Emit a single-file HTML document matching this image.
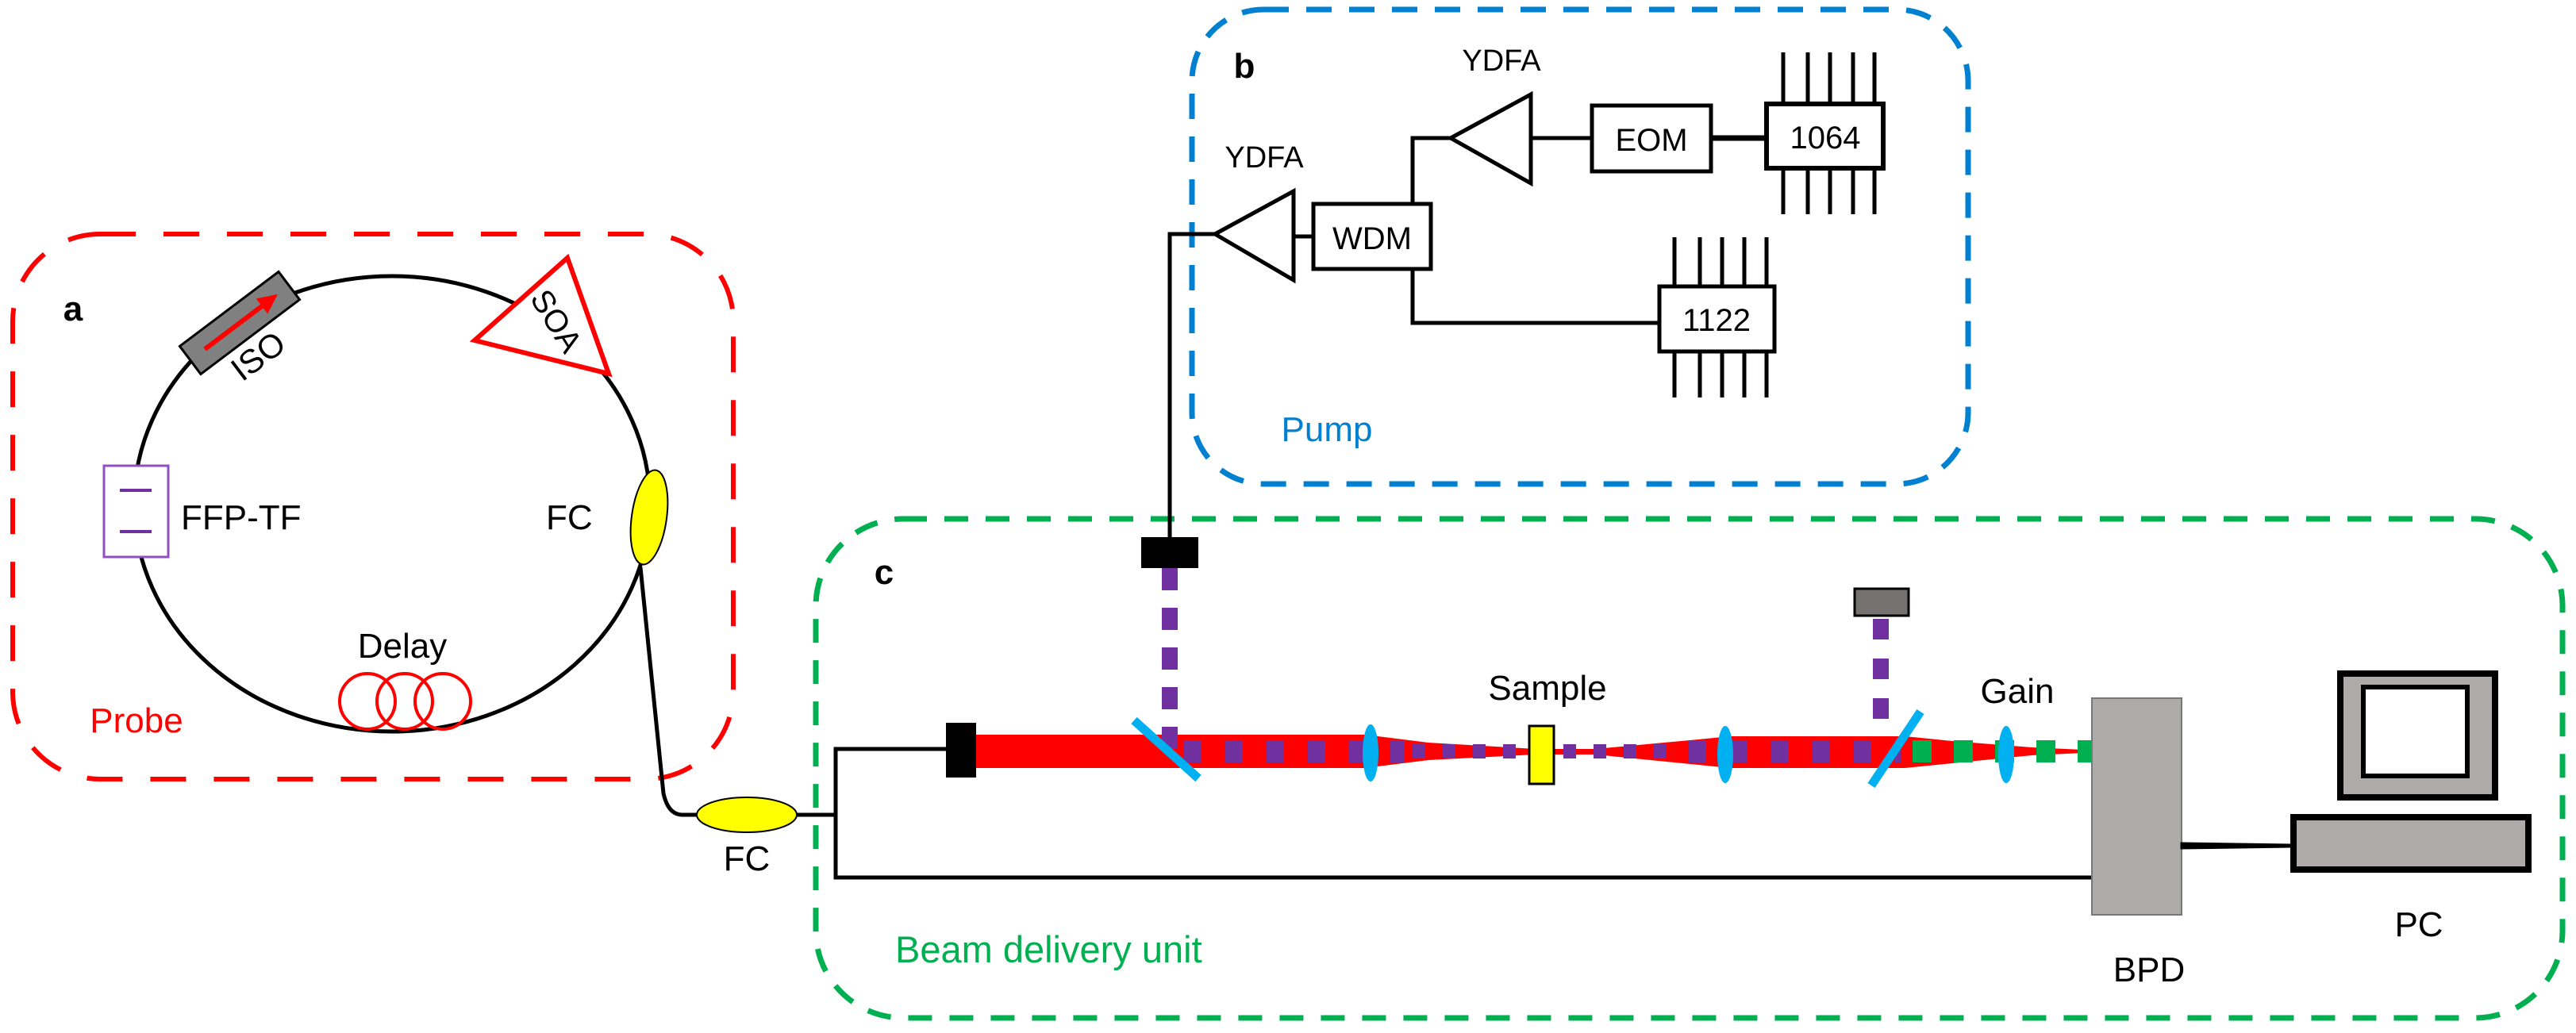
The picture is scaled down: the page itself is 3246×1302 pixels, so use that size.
<!DOCTYPE html>
<html><head><meta charset="utf-8"><style>
html,body{margin:0;padding:0;background:#fff;}
svg{display:block;}
text{font-family:"Liberation Sans",Arial,sans-serif;}
</style></head><body>
<svg width="3246" height="1302" viewBox="0 0 3246 1302" xmlns="http://www.w3.org/2000/svg">
<!-- Dashed group boxes -->
<rect x="16" y="295" width="908" height="687" rx="110" fill="none" stroke="#ff0000" stroke-width="6" stroke-dasharray="45 35"/>
<rect x="1502" y="12" width="978" height="598" rx="90" fill="none" stroke="#0080d0" stroke-width="7" stroke-dasharray="32 22"/>
<rect x="1028" y="654" width="2201" height="629" rx="110" fill="none" stroke="#00b050" stroke-width="7" stroke-dasharray="30 22"/>

<!-- Probe ring -->
<ellipse cx="494" cy="635" rx="325" ry="287" fill="none" stroke="#000" stroke-width="5"/>
<!-- FFP-TF -->
<rect x="131" y="587" width="81" height="115" fill="#fff" stroke="#9050c0" stroke-width="3"/>
<line x1="151" y1="618" x2="191" y2="618" stroke="#7030a0" stroke-width="4"/>
<line x1="151" y1="670" x2="191" y2="670" stroke="#7030a0" stroke-width="4"/>
<text x="228" y="667" font-size="44">FFP-TF</text>
<!-- ISO -->
<g transform="translate(302,407) rotate(-37)">
<rect x="-78" y="-22" width="156" height="44" fill="#808080" stroke="#000" stroke-width="3"/>
<line x1="-55" y1="0" x2="40" y2="0" stroke="#ff0000" stroke-width="6"/>
<polygon points="60,0 35,-12 35,12" fill="#ff0000"/>
</g>
<text x="0" y="0" font-size="42" transform="translate(305,482) rotate(-37)">ISO</text>
<!-- SOA -->
<polygon points="715,325 598,429 767,471" fill="#fff" stroke="#ff0000" stroke-width="6"/>
<text x="0" y="0" font-size="40" transform="translate(667,376) rotate(58)">SOA</text>
<!-- Upper FC -->
<ellipse cx="818" cy="652" rx="22" ry="60" fill="#ffff00" stroke="#000" stroke-width="2" transform="rotate(8 818 652)"/>
<text x="688" y="667" font-size="44">FC</text>
<!-- Delay -->
<text x="507" y="829" font-size="44" text-anchor="middle">Delay</text>
<circle cx="463" cy="884" r="35" fill="none" stroke="#ff0000" stroke-width="4"/>
<circle cx="510" cy="884" r="35" fill="none" stroke="#ff0000" stroke-width="4"/>
<circle cx="558" cy="884" r="35" fill="none" stroke="#ff0000" stroke-width="4"/>
<text x="92" y="404" font-size="44" font-weight="bold" text-anchor="middle">a</text>
<text x="172" y="923" font-size="44" fill="#ff0000" text-anchor="middle">Probe</text>

<!-- fiber to lower FC -->
<path d="M807,715 L836,1000 Q842,1027 860,1027 L880,1027" fill="none" stroke="#000" stroke-width="5"/>
<ellipse cx="941" cy="1027" rx="63" ry="22" fill="#ffff00" stroke="#000" stroke-width="2"/>
<text x="941" y="1097" font-size="44" text-anchor="middle">FC</text>
<polyline points="1004,1027 1053,1027" fill="none" stroke="#000" stroke-width="5"/>
<polyline points="1192,944 1053,944 1053,1106 2636,1106" fill="none" stroke="#000" stroke-width="5"/>

<!-- Pump section -->
<polyline points="1474,677 1474,295 1531,295" fill="none" stroke="#000" stroke-width="5"/>
<polygon points="1531,295 1630,241 1630,353" fill="#fff" stroke="#000" stroke-width="5"/>
<line x1="1630" y1="298" x2="1655" y2="298" stroke="#000" stroke-width="5"/>
<rect x="1655" y="257" width="148" height="82" fill="#fff" stroke="#000" stroke-width="5"/>
<text x="1729" y="314" font-size="40" text-anchor="middle">WDM</text>
<polyline points="1780,257 1780,174 1828,174" fill="none" stroke="#000" stroke-width="5"/>
<polygon points="1828,174 1929,119 1929,231" fill="#fff" stroke="#000" stroke-width="5"/>
<line x1="1929" y1="174" x2="2006" y2="174" stroke="#000" stroke-width="5"/>
<rect x="2006" y="133" width="150" height="83" fill="#fff" stroke="#000" stroke-width="5"/>
<text x="2081" y="190" font-size="40" text-anchor="middle">EOM</text>
<line x1="2156" y1="174" x2="2226" y2="174" stroke="#000" stroke-width="7"/>
<rect x="2226" y="131" width="147" height="81" fill="#fff" stroke="#000" stroke-width="6"/>
<text x="2300" y="187" font-size="40" text-anchor="middle">1064</text>
<g stroke="#000" stroke-width="5">
<line x1="2247" y1="66" x2="2247" y2="131"/><line x1="2278" y1="66" x2="2278" y2="131"/><line x1="2306" y1="66" x2="2306" y2="131"/><line x1="2335" y1="66" x2="2335" y2="131"/><line x1="2362" y1="66" x2="2362" y2="131"/>
<line x1="2247" y1="212" x2="2247" y2="270"/><line x1="2278" y1="212" x2="2278" y2="270"/><line x1="2306" y1="212" x2="2306" y2="270"/><line x1="2335" y1="212" x2="2335" y2="270"/><line x1="2362" y1="212" x2="2362" y2="270"/>
</g>
<polyline points="1780,339 1780,407 2091,407" fill="none" stroke="#000" stroke-width="5"/>
<rect x="2091" y="361" width="145" height="82" fill="#fff" stroke="#000" stroke-width="5"/>
<text x="2163" y="417" font-size="40" text-anchor="middle">1122</text>
<g stroke="#000" stroke-width="5">
<line x1="2110" y1="299" x2="2110" y2="361"/><line x1="2142" y1="299" x2="2142" y2="361"/><line x1="2170" y1="299" x2="2170" y2="361"/><line x1="2198" y1="299" x2="2198" y2="361"/><line x1="2226" y1="299" x2="2226" y2="361"/>
<line x1="2110" y1="443" x2="2110" y2="501"/><line x1="2142" y1="443" x2="2142" y2="501"/><line x1="2170" y1="443" x2="2170" y2="501"/><line x1="2198" y1="443" x2="2198" y2="501"/><line x1="2226" y1="443" x2="2226" y2="501"/>
</g>
<text x="1593" y="211" font-size="38" text-anchor="middle">YDFA</text>
<text x="1892" y="89" font-size="38" text-anchor="middle">YDFA</text>
<text x="1568" y="98" font-size="44" font-weight="bold" text-anchor="middle">b</text>
<text x="1672" y="556" font-size="44" fill="#0080d0" text-anchor="middle">Pump</text>

<!-- Beam delivery -->
<text x="1114" y="736" font-size="44" font-weight="bold" text-anchor="middle">c</text>
<text x="1128" y="1213" font-size="47" fill="#00b050">Beam delivery unit</text>
<rect x="1438" y="677" width="72" height="39" fill="#000"/>
<rect x="1192" y="911" width="38" height="69" fill="#000"/>
<path d="M1230,926 L1720,926 L1800,936 L1935,944 L2010,944 L2140,932 L2180,928 L2400,928 L2460,934 L2560,942 L2625,945 L2625,949 L2560,952 L2460,962 L2400,968 L2180,968 L2140,964 L2010,951 L1935,951 L1800,958 L1720,968 L1230,968 Z" fill="#ff0000"/>
<line x1="1474" y1="716" x2="1474" y2="945" stroke="#7030a0" stroke-width="20" stroke-dasharray="28 22"/>
<rect x="2337" y="742" width="68" height="34" fill="#767171" stroke="#000" stroke-width="3"/>
<line x1="2370" y1="780" x2="2370" y2="912" stroke="#7030a0" stroke-width="20" stroke-dasharray="26 24"/>
<line x1="1492" y1="947" x2="1770" y2="947" stroke="#7030a0" stroke-width="28" stroke-dasharray="22 30"/>
<line x1="1780" y1="947" x2="1925" y2="947" stroke="#7030a0" stroke-width="18" stroke-dasharray="16 22"/>
<line x1="1970" y1="947" x2="2120" y2="947" stroke="#7030a0" stroke-width="18" stroke-dasharray="16 22"/>
<line x1="2128" y1="947" x2="2395" y2="947" stroke="#7030a0" stroke-width="28" stroke-dasharray="22 30"/>
<line x1="2410" y1="947" x2="2636" y2="947" stroke="#00b050" stroke-width="28" stroke-dasharray="24 28"/>
<line x1="1429" y1="908" x2="1510" y2="981" stroke="#00b0f0" stroke-width="11"/>
<line x1="2420" y1="897" x2="2358" y2="990" stroke="#00b0f0" stroke-width="11"/>
<ellipse cx="1727" cy="949" rx="10" ry="36" fill="#00b0f0"/>
<ellipse cx="2174" cy="951" rx="10" ry="36" fill="#00b0f0"/>
<ellipse cx="2528" cy="951" rx="10" ry="36" fill="#00b0f0"/>
<rect x="1927" y="915" width="31" height="73" fill="#ffff00" stroke="#000" stroke-width="3"/>
<text x="1950" y="882" font-size="44" text-anchor="middle">Sample</text>
<text x="2542" y="886" font-size="44" text-anchor="middle">Gain</text>
<rect x="2636" y="880" width="113" height="273" fill="#aeaaaa" stroke="#777" stroke-width="2"/>
<text x="2708" y="1237" font-size="44" text-anchor="middle">BPD</text>
<path d="M2749,1063 L2886,1065 L2886,1067 L2749,1069 Z" fill="#000" stroke="#000" stroke-width="3"/>
<rect x="2890" y="1030" width="296" height="66" fill="#aeaaaa" stroke="#000" stroke-width="8"/>
<rect x="2949" y="849" width="195" height="156" fill="#aeaaaa" stroke="#000" stroke-width="8"/>
<rect x="2978" y="866" width="131" height="112" fill="#fff" stroke="#000" stroke-width="6"/>
<text x="3048" y="1180" font-size="44" text-anchor="middle">PC</text>
</svg>
</body></html>
